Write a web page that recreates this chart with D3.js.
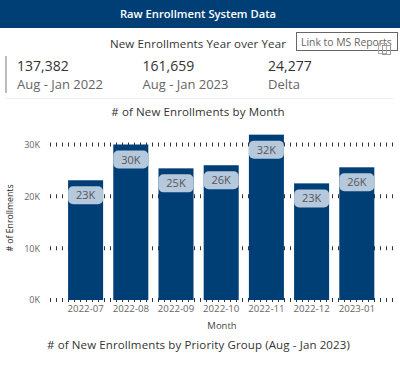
<!DOCTYPE html>
<html>
<head>
<meta charset="utf-8">
<script src="https://cdnjs.cloudflare.com/ajax/libs/d3/7.8.5/d3.min.js"></script>
<style>
  html, body { margin: 0; padding: 0; background: #fff; overflow: hidden; }
  text { font-family: "Open Sans", "Noto Sans", sans-serif; }
</style>
</head>
<body>
<div id="wrapper"></div>
<script>
// values
const months = ["2022-07", "2022-08", "2022-09", "2022-10", "2022-11", "2022-12", "2023-01"]
const enrollments = [23100, 30000, 25400, 26000, 31900, 22500, 25600]
const yTicks = [0, 10000, 20000, 30000]
const kpiValues = ["137,382", "161,659", "24,277"]
const kpiLabels = ["Aug - Jan 2022", "Aug - Jan 2023", "Delta"]

const navy = "#003f76"

const dimensions = {
  width: 400,
  height: 366,
  margins: { top: 144.5, right: 20.6, bottom: 66, left: 63 }
}
dimensions.boundedWidth = dimensions.width - dimensions.margins.left - dimensions.margins.right
dimensions.boundedHeight = dimensions.height - dimensions.margins.top - dimensions.margins.bottom

const wrapper = d3.select("#wrapper")
  .append("svg")
  .attr("width", dimensions.width)
  .attr("height", dimensions.height)
  .style("display", "block")

// header band
wrapper.append("rect")
  .attr("width", dimensions.width)
  .attr("height", 28)
  .attr("fill", navy)
wrapper.append("text")
  .attr("x", 198)
  .attr("y", 18)
  .attr("text-anchor", "middle")
  .attr("font-size", 11.2)
  .attr("font-weight", 600)
  .attr("fill", "#fff")
  .text("Raw Enrollment System Data")

// titles
const titles = [
  ["New Enrollments Year over Year", 198, 47.5],
  ["# of New Enrollments by Month", 198, 116],
  ["# of New Enrollments by Priority Group (Aug - Jan 2023)", 198.5, 349]
]
wrapper.selectAll(".title")
  .data(titles)
  .join("text")
  .attr("class", "title")
  .attr("x", d => d[1])
  .attr("y", d => d[2])
  .attr("text-anchor", "middle")
  .attr("font-size", 11.5)
  .attr("letter-spacing", 0.12)
  .attr("fill", "#333")
  .text(d => d[0])

// link button
wrapper.append("rect")
  .attr("x", 296.5)
  .attr("y", 32.5)
  .attr("width", 101)
  .attr("height", 18)
  .attr("fill", "#fff")
  .attr("stroke", "#666")
wrapper.append("text")
  .attr("x", 301)
  .attr("y", 46)
  .attr("font-size", 10.4)
  .attr("fill", "#666")
  .text("Link to MS Reports")
wrapper.append("rect")
  .attr("x", 378.5)
  .attr("y", 43.5)
  .attr("width", 8)
  .attr("height", 10)
  .attr("fill", "none")
  .attr("stroke", "#aaa")
wrapper.append("rect")
  .attr("x", 382.5)
  .attr("y", 45.5)
  .attr("width", 8)
  .attr("height", 9)
  .attr("fill", "none")
  .attr("stroke", "#999")

// kpi card
wrapper.append("rect")
  .attr("x", 5)
  .attr("y", 56)
  .attr("width", 2)
  .attr("height", 37)
  .attr("fill", "#bbb")
wrapper.append("rect")
  .attr("x", 5)
  .attr("y", 98)
  .attr("width", 388)
  .attr("height", 1)
  .attr("fill", "#eee")

const kpiX = d3.scalePoint()
  .domain(kpiValues)
  .range([17, 268])

wrapper.selectAll(".kpi-value")
  .data(kpiValues)
  .join("text")
  .attr("class", "kpi-value")
  .attr("x", d => kpiX(d))
  .attr("y", 71)
  .attr("font-size", 14)
  .attr("fill", "#333")
  .text(d => d)
wrapper.selectAll(".kpi-label")
  .data(kpiLabels)
  .join("text")
  .attr("class", "kpi-label")
  .attr("x", (d, i) => kpiX(kpiValues[i]))
  .attr("y", 89)
  .attr("font-size", 13)
  .attr("fill", "#666")
  .text(d => d)

const bounds = wrapper.append("g")
  .attr("transform", `translate(${dimensions.margins.left}, ${dimensions.margins.top})`)

// scales
const yScale = d3.scaleLinear()
  .domain([0, 30000])
  .range([dimensions.boundedHeight, 0])

const xScale = d3.scaleBand()
  .domain(months)
  .range([0, dimensions.boundedWidth])
  .paddingInner(0.225)
  .paddingOuter(0.1125)

// dotted gridlines
bounds.selectAll(".grid")
  .data(yTicks)
  .join("line")
  .attr("class", "grid")
  .attr("x1", -13)
  .attr("x2", dimensions.boundedWidth + 13.6)
  .attr("y1", d => yScale(d))
  .attr("y2", d => yScale(d))
  .attr("stroke", "#333")
  .attr("stroke-width", 4)
  .attr("stroke-dasharray", "1 5")

// bars
bounds.selectAll(".bar")
  .data(months)
  .join("rect")
  .attr("class", "bar")
  .attr("x", d => xScale(d))
  .attr("y", (d, i) => yScale(enrollments[i]))
  .attr("width", xScale.bandwidth())
  .attr("height", (d, i) => dimensions.boundedHeight - yScale(enrollments[i]))
  .attr("fill", navy)

// value pills
bounds.selectAll(".pill")
  .data(months)
  .join("rect")
  .attr("class", "pill")
  .attr("x", d => xScale(d))
  .attr("y", (d, i) => yScale(enrollments[i]) + 6)
  .attr("width", xScale.bandwidth())
  .attr("height", 18)
  .attr("rx", 5)
  .attr("fill", "#b5c8dc")
bounds.selectAll(".pill-label")
  .data(months)
  .join("text")
  .attr("class", "pill-label")
  .attr("x", d => xScale(d) + xScale.bandwidth() / 2)
  .attr("y", (d, i) => yScale(enrollments[i]) + 19)
  .attr("text-anchor", "middle")
  .attr("font-size", 11)
  .attr("fill", "#555")
  .text((d, i) => Math.round(enrollments[i] / 1000) + "K")

// axes
const yAxisGenerator = d3.axisLeft()
  .scale(yScale)
  .tickValues(yTicks)
  .tickSize(0)
  .tickPadding(23)
  .tickFormat(d => (d / 1000) + "K")

const yAxis = bounds.append("g")
  .call(yAxisGenerator)
yAxis.select(".domain").remove()
yAxis.selectAll("text")
  .attr("font-size", 9)
  .attr("font-family", null)
  .attr("fill", "#666")

const xAxisGenerator = d3.axisBottom()
  .scale(xScale)
  .tickSize(0)
  .tickPadding(5)

const xAxis = bounds.append("g")
  .attr("transform", `translate(0, ${dimensions.boundedHeight})`)
  .call(xAxisGenerator)
xAxis.select(".domain").remove()
xAxis.selectAll("text")
  .attr("font-size", 9.7)
  .attr("font-family", null)
  .attr("fill", "#666")

// axis titles
wrapper.append("text")
  .attr("x", 222)
  .attr("y", 329)
  .attr("text-anchor", "middle")
  .attr("font-size", 9.5)
  .attr("fill", "#444")
  .text("Month")
wrapper.append("text")
  .attr("transform", "translate(13, 218) rotate(-90)")
  .attr("text-anchor", "middle")
  .attr("font-size", 8.7)
  .attr("fill", "#222")
  .text("# of Enrollments")
</script>
</body>
</html>
